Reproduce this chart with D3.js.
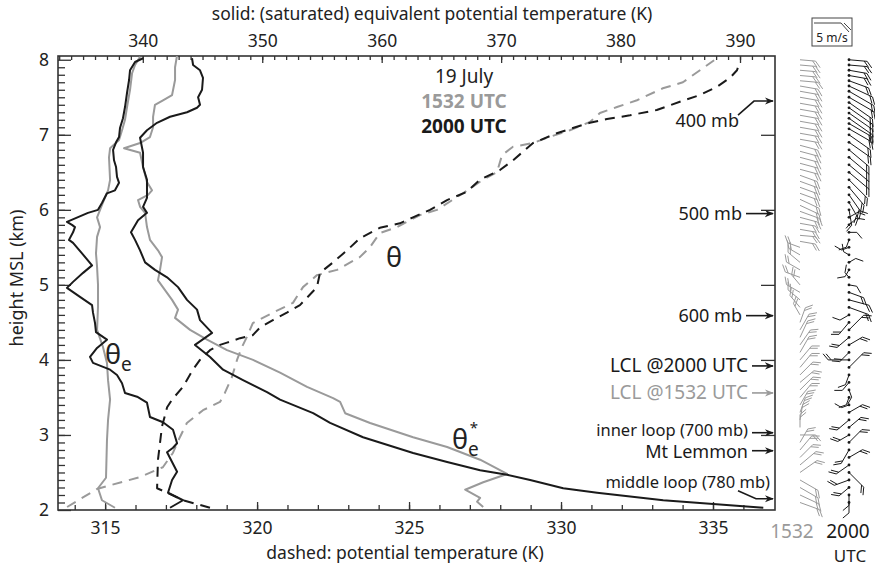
<!DOCTYPE html>
<html>
<head>
<meta charset="utf-8">
<script src="https://cdn.jsdelivr.net/npm/d3@7"></script>
<style>
  body { margin: 0; background: #fff; }
  text { font-family: "Noto Sans", sans-serif; }
</style>
</head>
<body>
<div id="chart"></div>
<script>
// ---- data: [height km, value K] ----
var thetaE1532 = [[8.04,339.77],[7.93,339.35],[7.82,339.1],[7.6,338.93],[7.37,338.68],[7.2,338.51],[7.06,338.26],[6.93,338.01],[6.82,337.26],[6.7,337.17],[6.4,337.26],[6.26,337.09],[6.1,336.67],[6.0,336.42],[5.9,336.17],[5.77,336.42],[5.64,336.17],[5.42,336.08],[5.24,336.17],[5.0,336.25],[4.71,336.25],[4.4,336.17],[4.17,336.67],[3.96,337.0],[3.73,337.09],[3.47,337.26],[3.2,337.09],[2.93,337.0],[2.43,336.92],[2.29,336.25],[2.13,336.58],[2.03,337.67]];
var thetaE2000 = [[8.02,340.02],[7.97,339.35],[7.86,338.93],[7.73,338.85],[7.56,338.68],[7.37,338.51],[7.22,338.34],[7.09,338.09],[6.97,338.01],[6.9,337.76],[6.8,337.51],[6.66,337.59],[6.57,337.76],[6.44,337.84],[6.36,338.01],[6.26,337.67],[6.22,337.0],[6.09,336.58],[6.0,336.25],[5.96,335.41],[5.84,333.65],[5.8,334.07],[5.77,334.32],[5.7,334.16],[5.6,333.82],[5.56,334.16],[5.42,334.91],[5.26,335.75],[5.16,335.0],[5.04,334.16],[4.96,333.65],[4.84,334.74],[4.73,335.75],[4.63,335.83],[4.49,336.0],[4.37,336.08],[4.27,337.0],[4.16,336.17],[4.04,335.58],[3.96,335.83],[3.87,337.26],[3.8,337.84],[3.69,338.26],[3.56,338.51],[3.51,339.52],[3.43,340.35],[3.24,340.6],[3.17,341.69],[3.07,342.53],[2.89,342.87],[2.83,342.53],[2.77,342.03],[2.64,342.45],[2.51,342.87],[2.4,342.45],[2.23,342.11],[2.13,343.37],[2.03,342.28]];
var thetaES1532 = [[8.06,342.87],[7.9,342.7],[7.73,342.7],[7.53,342.45],[7.46,341.69],[7.4,341.02],[7.24,340.86],[7.1,340.86],[6.97,340.6],[6.89,339.77],[6.82,338.43],[6.76,339.77],[6.57,340.02],[6.37,340.35],[6.26,340.77],[6.2,340.44],[6.13,339.6],[6.04,339.77],[5.96,340.19],[5.77,340.35],[5.6,340.6],[5.46,341.27],[5.37,341.61],[5.2,341.44],[5.06,341.27],[4.93,341.86],[4.8,342.45],[4.67,342.95],[4.56,342.7],[4.4,343.96],[4.27,345.38],[4.13,347.05],[4.0,349.23],[3.83,351.49],[3.64,353.75],[3.49,355.93],[3.44,356.52],[3.29,356.94],[3.16,359.03],[2.97,362.63],[2.84,365.48],[2.67,368.24],[2.48,370.5],[2.37,368.5],[2.27,366.99],[2.16,368.24],[2.11,367.99],[2.04,368.5]];
var thetaES2000 = [[8.02,344.12],[7.93,344.21],[7.86,344.79],[7.76,345.04],[7.6,344.96],[7.5,344.63],[7.4,344.79],[7.36,344.54],[7.3,343.7],[7.24,342.28],[7.16,341.19],[7.06,340.35],[6.96,339.77],[6.76,340.02],[6.57,340.02],[6.4,340.35],[6.24,340.35],[6.16,340.35],[6.04,340.02],[5.96,340.35],[5.86,339.6],[5.7,339.01],[5.6,339.35],[5.46,339.77],[5.3,340.19],[5.2,341.02],[5.1,342.03],[4.97,342.95],[4.8,343.7],[4.67,344.54],[4.53,344.79],[4.36,345.8],[4.2,344.37],[4.04,345.63],[3.87,346.72],[3.73,348.39],[3.57,350.4],[3.47,351.49],[3.29,354.26],[3.16,355.68],[2.97,358.44],[2.76,362.63],[2.64,365.48],[2.53,368.24],[2.47,370.5],[2.4,372.43],[2.29,375.2],[2.23,378.04],[2.13,383.57],[2.03,391.95]];
var theta1532 = [[2.04,313.75],[2.28,314.73],[2.44,316.15],[2.57,316.9],[2.76,317.23],[2.97,317.46],[3.16,317.69],[3.33,318.22],[3.44,318.78],[3.56,318.94],[3.77,319.17],[4.0,319.34],[4.17,319.5],[4.31,319.67],[4.49,319.86],[4.63,320.52],[4.76,321.18],[4.97,321.51],[5.13,321.97],[5.2,322.63],[5.37,323.38],[5.5,323.71],[5.69,324.04],[5.77,324.6],[5.93,325.36],[6.0,325.92],[6.22,326.77],[6.4,327.43],[6.5,327.89],[6.73,328.06],[6.84,328.42],[6.89,329.08],[6.96,329.54],[7.06,330.29],[7.17,330.95],[7.29,331.28],[7.37,331.84],[7.46,332.5],[7.62,333.35],[7.7,334.01],[7.86,334.57],[8.02,335.13]];
var theta2000 = [[2.03,318.45],[2.13,317.56],[2.23,317.04],[2.29,316.71],[2.67,316.74],[3.11,316.87],[3.37,317.04],[3.47,317.2],[3.64,317.56],[3.87,317.89],[4.0,318.12],[4.13,318.45],[4.2,318.78],[4.23,319.01],[4.29,319.44],[4.33,319.86],[4.43,320.09],[4.53,320.52],[4.63,320.98],[4.73,321.41],[4.97,321.97],[5.16,322.07],[5.3,322.5],[5.46,322.96],[5.62,323.38],[5.76,324.04],[5.82,324.7],[5.9,325.13],[6.0,325.69],[6.13,326.25],[6.24,326.9],[6.4,327.33],[6.53,327.99],[6.66,328.42],[6.89,329.08],[7.02,329.86],[7.09,330.39],[7.16,330.95],[7.21,331.51],[7.26,332.27],[7.33,333.15],[7.44,333.91],[7.53,334.57],[7.64,335.13],[7.76,335.56],[7.86,335.79],[7.97,335.88]];

// ---- tick labels ----
var heightTicks = [2, 3, 4, 5, 6, 7, 8];
var thetaTicks = [315, 320, 325, 330, 335];
var thetaETicks = [340, 350, 360, 370, 380, 390];

// ---- level annotations: [label, height km] ----
var levelLabels = [["400 mb", 7.45], ["500 mb", 5.95], ["600 mb", 4.59], ["LCL @2000 UTC", 3.92], ["LCL @1532 UTC", 3.56], ["inner loop (700 mb)", 3.03], ["Mt Lemmon", 2.79], ["middle loop (780 mb)", 2.15]];

// ---- wind barbs: height km, direction from (deg), speed m/s ----
var windH2000 = [8.0,7.93,7.86,7.79,7.72,7.65,7.58,7.5,7.43,7.36,7.29,7.22,7.15,7.08,7.0,6.9,6.8,6.7,6.6,6.5,6.4,6.3,6.2,6.1,6.0,5.9,5.8,5.7,5.6,5.5,5.4,5.3,5.2,5.1,5.0,4.9,4.8,4.7,4.6,4.5,4.4,4.3,4.2,4.1,4.0,3.9,3.8,3.7,3.6,3.5,3.4,3.3,3.2,3.1,3.0,2.9,2.8,2.7,2.6,2.5,2.4,2.3,2.2,2.1];
var windDir2000 = [95,95,100,100,110,115,120,120,125,125,125,125,120,120,125,125,130,130,130,130,135,140,145,150,170,60,50,90,200,250,300,60,210,320,100,110,105,110,240,220,45,230,60,225,270,45,200,220,160,200,250,60,230,50,240,45,210,60,235,135,250,230,180,180];
var windSpd2000 = [3.5,3.5,3.5,3.5,4,5,5.5,5.5,5.5,5.5,5.5,5.5,5,5,5,5,5,5,5,5,5,4.5,4,3.5,3,2.5,2,1.5,1.5,1.5,1.2,1.5,1.5,1.2,1.5,3,4,4,2,3,4,3,3,2.5,4,4,2,2,1.5,1.5,1.5,3,3,3,2.5,3.5,3,3,3,4,3,2.5,2,2];
var windH1532 = [8.0,7.93,7.86,7.79,7.72,7.65,7.58,7.5,7.42,7.34,7.26,7.18,7.1,7.02,6.94,6.86,6.78,6.7,6.62,6.54,6.46,6.38,6.3,6.22,6.14,6.06,5.98,5.9,5.82,5.74,5.66,5.58,5.5,5.4,5.3,5.2,5.1,5.0,4.9,4.8,4.7,4.6,4.5,4.4,4.3,4.2,4.1,4.0,3.9,3.8,3.7,3.6,3.5,3.4,3.3,3.2,3.1,3.0,2.9,2.8,2.7,2.6,2.5,2.4,2.3,2.2,2.1];
var windDir1532 = [95,95,95,95,95,100,100,100,100,100,100,100,100,100,100,105,105,105,105,105,110,110,110,110,115,115,110,105,100,100,95,100,290,300,310,300,290,320,300,310,320,330,20,30,25,35,30,40,40,45,50,45,40,30,20,10,0,90,30,40,45,50,55,120,120,115,110];
var windSpd1532 = [3,3,3,3,3.5,3.5,3.5,3.5,3.5,3.5,3.5,3.5,3.5,3.5,3.5,3.5,3.5,3.5,3.5,3.5,3.5,3.5,3.5,3.5,4,4,4,3.5,3,3,3,3,2.5,2.5,3,3,3,2.5,3,3,3,2.5,3,3.5,3.5,3.5,3.5,3.5,3.5,3.5,3.5,3.5,3.5,3,3,3,2.5,3,3,3.5,3.5,4,4,4,4,4,4];

var W = 875, H = 566;
var plotL = 58, plotR = 775, plotT = 56, plotB = 510;
var black = "#1a1a1a", gray = "#9a9a9a", axisCol = "#333";
var comic = "\"DejaVu Sans Condensed\", \"DejaVu Sans\", sans-serif";

var svg = d3.select("#chart").append("svg")
    .attr("width", W).attr("height", H);

var defs = svg.append("defs");
defs.append("clipPath").attr("id", "plotclip")
    .append("rect").attr("x", plotL).attr("y", plotT).attr("width", plotR - plotL).attr("height", plotB - plotT);
[["arrBlack", black], ["arrGray", gray]].forEach(function(m) {
    defs.append("marker").attr("id", m[0])
        .attr("viewBox", "0 0 10 10").attr("refX", 9).attr("refY", 5)
        .attr("markerWidth", 9).attr("markerHeight", 9).attr("markerUnits", "userSpaceOnUse")
        .attr("orient", "auto")
        .append("path").attr("d", "M0,1 L10,5 L0,9 L3,5 Z").attr("fill", m[1]);
});

var y = d3.scaleLinear().domain([2, 8.05]).range([plotB, plotT]);
var xTheta = d3.scaleLinear().domain([313.45, 337.04]).range([plotL, plotR]);
var xThetaE = d3.scaleLinear().domain([332.9, 392.93]).range([plotL, plotR]);

// ---- axes ----
function styleAxis(g) {
    g.select(".domain").remove();
    g.selectAll(".tick line").attr("stroke", axisCol).attr("stroke-width", 1.3);
    g.selectAll(".tick text").attr("fill", "#222").attr("font-size", 17.5)
        .attr("font-family", "\"Noto Sans\", sans-serif");
}

svg.append("g").attr("transform", "translate(0," + plotB + ")")
    .call(d3.axisBottom(xTheta).tickValues(d3.range(314, 337)).tickSize(-5).tickFormat(""))
    .call(styleAxis);
svg.append("g").attr("transform", "translate(0," + plotB + ")")
    .call(d3.axisBottom(xTheta).tickValues(thetaTicks).tickSize(-8).tickPadding(12).tickFormat(d3.format("d")))
    .call(styleAxis);

svg.append("g").attr("transform", "translate(0," + plotT + ")")
    .call(d3.axisTop(xThetaE).tickValues(d3.range(333, 393)).tickSize(-4).tickFormat(""))
    .call(styleAxis);
svg.append("g").attr("transform", "translate(0," + plotT + ")")
    .call(d3.axisTop(xThetaE).tickValues(thetaETicks).tickSize(-7).tickPadding(9).tickFormat(d3.format("d")))
    .call(styleAxis);

svg.append("g").attr("transform", "translate(" + plotL + ",0)")
    .call(d3.axisLeft(y).tickValues(d3.range(2.1, 8.0, 0.1)).tickSize(-7).tickFormat(""))
    .call(styleAxis);
svg.append("g").attr("transform", "translate(" + plotL + ",0)")
    .call(d3.axisLeft(y).tickValues(heightTicks).tickSize(-13).tickPadding(9).tickFormat(d3.format("d")))
    .call(styleAxis);

svg.append("g").attr("transform", "translate(" + plotR + ",0)")
    .call(d3.axisRight(y).tickValues([3, 4, 5, 6, 7]).tickSize(-14).tickFormat(""))
    .call(styleAxis);

svg.append("rect").attr("x", plotL).attr("y", plotT)
    .attr("width", plotR - plotL).attr("height", plotB - plotT)
    .attr("fill", "none").attr("stroke", axisCol).attr("stroke-width", 1.6);

// ---- curves ----
var plot = svg.append("g").attr("clip-path", "url(#plotclip)");
var lineE = d3.line().x(function(d) { return xThetaE(d[1]); }).y(function(d) { return y(d[0]); });
var lineT = d3.line().x(function(d) { return xTheta(d[1]); }).y(function(d) { return y(d[0]); });

var curves = [
    { data: thetaE1532, line: lineE, color: gray, dash: null },
    { data: thetaES1532, line: lineE, color: gray, dash: null },
    { data: theta1532, line: lineT, color: gray, dash: "10,7" },
    { data: thetaE2000, line: lineE, color: black, dash: null },
    { data: thetaES2000, line: lineE, color: black, dash: null },
    { data: theta2000, line: lineT, color: black, dash: "10,7" }
];
curves.forEach(function(c) {
    plot.append("path").datum(c.data)
        .attr("d", c.line)
        .attr("fill", "none")
        .attr("stroke", c.color)
        .attr("stroke-width", 2)
        .attr("stroke-linejoin", "round")
        .attr("stroke-dasharray", c.dash);
});

// ---- titles ----
svg.append("text").attr("x", 432).attr("y", 20).attr("text-anchor", "middle")
    .attr("font-size", 17.5).attr("fill", "#222")
    .text("solid: (saturated) equivalent potential temperature (K)");
svg.append("text").attr("x", 405).attr("y", 559).attr("text-anchor", "middle")
    .attr("font-size", 17.5).attr("fill", "#222")
    .text("dashed: potential temperature (K)");
svg.append("text").attr("transform", "translate(23,278) rotate(-90)").attr("text-anchor", "middle")
    .attr("font-size", 18).attr("fill", "#222")
    .text("height MSL (km)");

// ---- date / time key ----
var key = svg.append("g").attr("font-family", comic).attr("text-anchor", "middle");
key.append("text").attr("x", 464).attr("y", 83).attr("font-size", 19).attr("fill", "#222").text("19 July");
key.append("text").attr("x", 464).attr("y", 108).attr("font-size", 19).attr("font-weight", "bold").attr("fill", gray).text("1532 UTC");
key.append("text").attr("x", 464).attr("y", 133).attr("font-size", 19).attr("font-weight", "bold").attr("fill", black).text("2000 UTC");

// ---- curve labels ----
function greek(x0, yy, sub, sup) {
    var t = svg.append("text").attr("x", x0).attr("y", yy).attr("font-size", 27).attr("fill", "#222");
    t.append("tspan").text("\u03B8");
    if (sub) t.append("tspan").attr("font-size", 19).attr("dy", 7).text(sub);
    if (sup) t.append("tspan").attr("font-size", 15).attr("dx", -9).attr("dy", -23).text(sup);
}
greek(105, 364, "e");
greek(386, 267);
greek(452, 449, "e", "*");

// ---- level arrows ----
var comicLevels = { "LCL @2000 UTC": 19, "LCL @1532 UTC": 19, "Mt Lemmon": 18 };
levelLabels.forEach(function(l) {
    var yy = y(l[1]);
    var col = l[0] === "LCL @1532 UTC" ? gray : black;
    var marker = col === gray ? "url(#arrGray)" : "url(#arrBlack)";
    var pts, tx, ty;
    if (l[0] === "400 mb") {
        pts = [[738, yy + 14], [754, yy], [773, yy]];
        tx = 739; ty = yy + 26;
    } else if (l[0] === "middle loop (780 mb)") {
        pts = [[738, yy - 8], [756, yy], [773, yy]];
        tx = 770; ty = yy - 11;
    } else {
        pts = [[l[0] === "500 mb" || l[0] === "600 mb" ? 746 : 752, yy], [773, yy]];
        tx = pts[0][0] - 4;
        ty = yy + (l[0] === "inner loop (700 mb)" ? 3 : (l[0] === "Mt Lemmon" ? 7 : 6));
    }
    svg.append("path").attr("d", d3.line()(pts))
        .attr("fill", "none").attr("stroke", col).attr("stroke-width", 1.6)
        .attr("marker-end", marker);
    svg.append("text").attr("x", tx).attr("y", ty).attr("text-anchor", "end")
        .attr("font-size", comicLevels[l[0]] || (l[0].length > 8 ? 16.5 : 18))
        .attr("font-family", comicLevels[l[0]] ? comic : "\"Noto Sans\", sans-serif")
        .attr("fill", col)
        .text(l[0]);
});

// ---- wind barbs ----
var msPx = 5.2;
function drawBarbs(hs, dirs, spds, x0, col, dots) {
    var g = svg.append("g").attr("stroke", col).attr("stroke-width", 1).attr("fill", "none");
    hs.forEach(function(h, i) {
        var yy = y(h);
        var r = dirs[i] * Math.PI / 180;
        var L = spds[i] * msPx;
        var dx = Math.sin(r), dy = -Math.cos(r);
        var tx = x0 + L * dx, ty = yy + L * dy;
        g.append("line").attr("x1", x0).attr("y1", yy).attr("x2", tx).attr("y2", ty);
        var a = Math.atan2(dy, dx) + 50 * Math.PI / 180;
        var nf = spds[i] >= 2.5 ? 2 : 1;
        for (var k = 0; k < nf; k++) {
            var bx = tx - k * 3 * dx, by = ty - k * 3 * dy;
            g.append("line").attr("x1", bx).attr("y1", by)
                .attr("x2", bx + 8 * Math.cos(a)).attr("y2", by + 8 * Math.sin(a));
        }
        if (dots) {
            svg.append("circle").attr("cx", x0).attr("cy", yy).attr("r", 1.4).attr("fill", col);
        }
    });
}
drawBarbs(windH1532, windDir1532, windSpd1532, 800, gray, false);
drawBarbs(windH2000, windDir2000, windSpd2000, 849, black, true);

// barb scale box
svg.append("rect").attr("x", 812).attr("y", 18).attr("width", 40).attr("height", 28)
    .attr("fill", "none").attr("stroke", "#444").attr("stroke-width", 1);
svg.append("path").attr("d", "M814,23 L841,23 L849,32 M844,23 L851,30")
    .attr("fill", "none").attr("stroke", "#444").attr("stroke-width", 1);
svg.append("text").attr("x", 832).attr("y", 42).attr("text-anchor", "middle")
    .attr("font-family", comic).attr("font-size", 12).attr("fill", "#222").text("5 m/s");

// column labels
svg.append("text").attr("x", 792).attr("y", 538).attr("text-anchor", "middle")
    .attr("font-size", 19).attr("fill", gray).text("1532");
svg.append("text").attr("x", 848).attr("y", 538).attr("text-anchor", "middle")
    .attr("font-size", 19).attr("fill", black).text("2000");
svg.append("text").attr("x", 850).attr("y", 562).attr("text-anchor", "middle")
    .attr("font-family", comic).attr("font-size", 17).attr("fill", "#222").text("UTC");
</script>
</body>
</html>
